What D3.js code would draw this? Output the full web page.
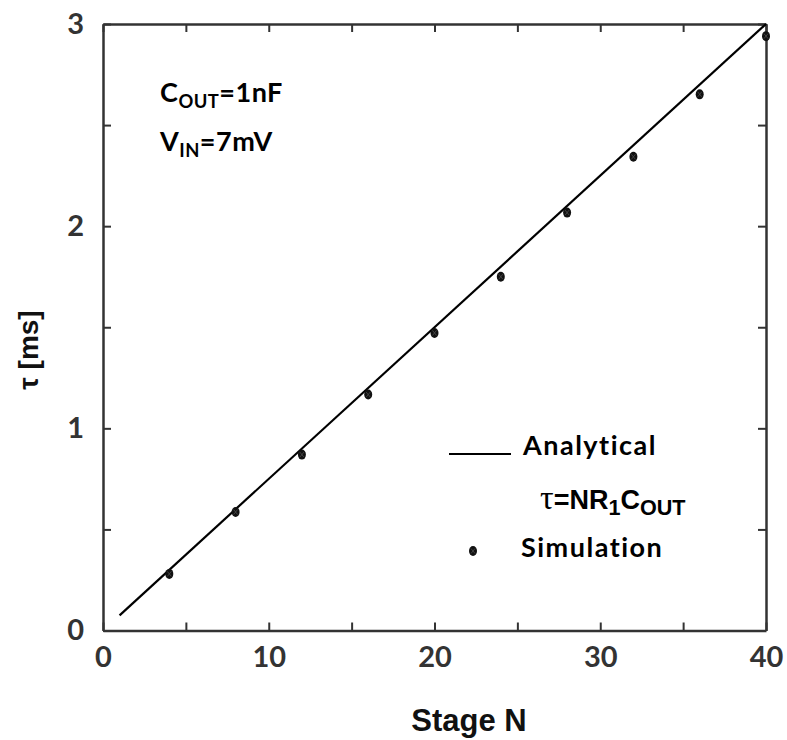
<!DOCTYPE html>
<html>
<head>
<meta charset="utf-8">
<script src="https://cdn.jsdelivr.net/npm/d3@7"></script>
<style>
  html, body { margin: 0; padding: 0; background: #fff; }
  svg { display: block; }
</style>
</head>
<body>
<svg id="chart" width="787" height="740"></svg>
<script>
// Stage count N and simulated time constant tau (ms)
const stages = [4, 8, 12, 16, 20, 24, 28, 32, 36, 40];
const tauSim = [0.28, 0.586, 0.87, 1.167, 1.472, 1.75, 2.067, 2.343, 2.652, 2.94];
// Analytical model tau = N * R1 * COUT, evaluated at its end points
const analyticN = [1, 40];
const analyticTau = [0.075, 3.0];
const xTicks = [0, 5, 10, 15, 20, 25, 30, 35, 40];
const xLabels = [0, 10, 20, 30, 40];
const yTicks = [0, 0.5, 1, 1.5, 2, 2.5, 3];
const yLabels = [0, 1, 2, 3];

const svg = d3.select("#chart");
const x = d3.scaleLinear().domain([0, 40]).range([103, 766]);
const y = d3.scaleLinear().domain([0, 3]).range([630.5, 24]);

const axisColor = "#333";
const tickFont = "Lato, 'Open Sans', sans-serif";

function styleAxis(g) {
  g.select(".domain").attr("stroke", axisColor).attr("stroke-width", 2.5);
  g.selectAll(".tick line").attr("stroke", axisColor).attr("stroke-width", 2);
  g.selectAll(".tick text")
    .attr("fill", axisColor)
    .attr("font-family", tickFont)
    .attr("font-weight", "bold")
    .attr("font-size", 29);
}

// bottom axis with labels
svg.append("g")
  .attr("transform", `translate(0,${y(0)})`)
  .call(d3.axisBottom(x).tickValues(xTicks).tickSizeInner(-8).tickSizeOuter(0).tickPadding(16)
    .tickFormat(d => xLabels.includes(d) ? d : ""))
  .call(styleAxis);
// top axis
svg.append("g")
  .attr("transform", `translate(0,${y(3)})`)
  .call(d3.axisTop(x).tickValues(xTicks).tickSizeInner(-8).tickSizeOuter(0).tickFormat(""))
  .call(styleAxis);
// left axis with labels
svg.append("g")
  .attr("transform", `translate(${x(0)},0)`)
  .call(d3.axisLeft(y).tickValues(yTicks).tickSizeInner(-8).tickSizeOuter(0).tickPadding(19)
    .tickFormat(d => yLabels.includes(d) ? d : ""))
  .call(styleAxis);
// right axis
svg.append("g")
  .attr("transform", `translate(${x(40)},0)`)
  .call(d3.axisRight(y).tickValues(yTicks).tickSizeInner(-8).tickSizeOuter(0).tickFormat(""))
  .call(styleAxis);

// analytical line
const line = d3.line().x(d => x(d[0])).y(d => y(d[1]));
svg.append("path")
  .datum(analyticN.map((n, i) => [n, analyticTau[i]]))
  .attr("d", line)
  .attr("fill", "none")
  .attr("stroke", "#000")
  .attr("stroke-width", 2.2);

// simulation markers
function marker(g, cx, cy) {
  g.append("ellipse").attr("cx", cx).attr("cy", cy).attr("rx", 4).attr("ry", 5).attr("fill", "#111");
  g.append("path")
    .attr("d", `M${cx - 2},${cy - 2.5}L${cx + 2},${cy + 2.5}M${cx + 2},${cy - 2.5}L${cx - 2},${cy + 2.5}`)
    .attr("stroke", "#555").attr("stroke-width", 0.7);
}
const pts = svg.append("g");
stages.forEach((n, i) => marker(pts, x(n), y(tauSim[i])));

// axis titles
svg.append("text")
  .attr("x", 469).attr("y", 731)
  .attr("text-anchor", "middle")
  .attr("font-family", "'Liberation Sans', Arial, sans-serif")
  .attr("font-weight", "bold").attr("font-size", 31)
  .attr("fill", "#111")
  .text("Stage N");

svg.append("text")
  .attr("transform", "translate(38,350) rotate(-90)")
  .attr("text-anchor", "middle")
  .attr("font-family", "'Liberation Sans', Arial, sans-serif")
  .attr("font-weight", "bold").attr("font-size", 28)
  .attr("fill", "#111")
  .text("τ [ms]");

// parameter annotations
const calib = "Lato, 'Open Sans', sans-serif";
function subText(xp, yp, parts, size, family, spacing, subScale) {
  const k = subScale || 0.68;
  const t = svg.append("text").attr("x", xp).attr("y", yp)
    .attr("font-family", family).attr("font-weight", "bold")
    .attr("font-size", size).attr("fill", "#000")
    .attr("letter-spacing", spacing || 0);
  parts.forEach(p => {
    const s = t.append("tspan").text(p.t);
    if (p.sub) s.attr("font-size", size * k).attr("dy", size * 0.22);
    if (p.up) s.attr("dy", -size * 0.22);
    if (p.size) s.attr("font-size", p.size);
    if (p.family) s.attr("font-family", p.family).attr("font-weight", p.weight || "bold");
  });
  return t;
}
subText(160, 102, [{ t: "C" }, { t: "OUT", sub: true }, { t: "=1nF", up: true }], 27, calib, 0.5);
subText(160, 151, [{ t: "V" }, { t: "IN", sub: true }, { t: "=7mV", up: true }], 27, calib, 0.5);

// legend
svg.append("line")
  .attr("x1", 449).attr("x2", 511).attr("y1", 454).attr("y2", 454)
  .attr("stroke", "#000").attr("stroke-width", 2);
subText(523, 455, [{ t: "Analytical" }], 27, calib, 1.5);
subText(540, 509, [
  { t: "τ", family: "'Liberation Serif', 'DejaVu Serif', serif", weight: "normal", size: 34 },
  { t: "=NR" }, { t: "1", sub: true }, { t: "C", up: true }, { t: "OUT", sub: true }
], 27, "'Liberation Sans', Arial, sans-serif", 0, 0.8);
marker(svg, 473, 551);
subText(521, 557, [{ t: "Simulation" }], 27, calib, 1.5);
</script>
</body>
</html>
